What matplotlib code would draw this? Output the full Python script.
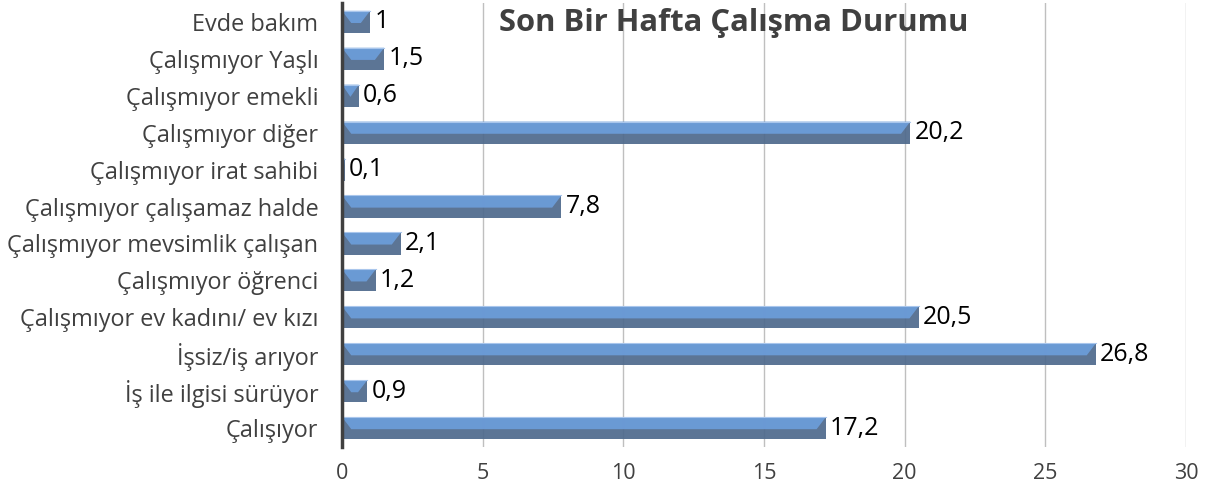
import matplotlib
matplotlib.use("Agg")
import matplotlib.pyplot as plt
from matplotlib.patches import Polygon, Rectangle

plt.rcParams['font.family'] = ['Open Sans', 'DejaVu Sans']

kategoriler = ['Çalışıyor', 'İş ile ilgisi sürüyor', 'İşsiz/iş arıyor',
               'Çalışmıyor ev kadını/ ev kızı', 'Çalışmıyor öğrenci',
               'Çalışmıyor mevsimlik çalışan', 'Çalışmıyor çalışamaz halde',
               'Çalışmıyor irat sahibi', 'Çalışmıyor diğer', 'Çalışmıyor emekli',
               'Çalışmıyor Yaşlı', 'Evde bakım']
degerler = [17.2, 0.9, 26.8, 20.5, 1.2, 2.1, 7.8, 0.1, 20.2, 0.6, 1.5, 1]
etiketler = ['17,2', '0,9', '26,8', '20,5', '1,2', '2,1', '7,8', '0,1', '20,2', '0,6', '1,5', '1']
baslik = 'Son Bir Hafta Çalışma Durumu'

ACIK = '#6C9DDA'
KOYU = '#4F6A8D'
h = 0.6

fig = plt.figure(figsize=(12.11, 4.88), dpi=100)
ax = fig.add_axes([0.2824, 0.085, 0.697, 0.908])

for i, v in enumerate(degerler):
    alt, ust = i - h / 2, i + h / 2
    d = min(0.33, v / 2)
    # koyu alt kisim (tum cubuk)
    ax.add_patch(Rectangle((0, alt), v, h, facecolor=KOYU, edgecolor='none', alpha=0.93, zorder=2))
    # acik ust yuz (egimli uclar)
    ax.add_patch(Polygon([(0, ust), (v, ust), (v - d, i - 0.03), (d, i - 0.03)], closed=True,
                         facecolor=ACIK, edgecolor='none', alpha=0.93, zorder=3))
    ax.plot([0, v], [ust, ust], color='#A9C6EC', lw=0.8, zorder=4)
    ax.annotate(etiketler[i], (v, i), xytext=(3, 0), textcoords='offset points',
                va='center', ha='left', fontsize=18, color='black')

ax.set_xlim(0, 30)
ax.set_ylim(-0.5, len(kategoriler) - 0.5)
ax.set_yticks(range(len(kategoriler)))
ax.set_yticklabels(kategoriler)
ax.set_xticks([0, 5, 10, 15, 20, 25, 30])
ax.tick_params(axis='y', length=0, pad=17, labelsize=16.9, labelcolor='#404040')
ax.tick_params(axis='x', length=0, pad=12, labelsize=15.5, labelcolor='#404040')
ax.grid(axis='x', color='#BFBFBF', lw=1, zorder=1)
ax.set_axisbelow(True)
for s in ['top', 'right', 'bottom']:
    ax.spines[s].set_visible(False)
ax.spines['left'].set_color('#404040')
ax.spines['left'].set_linewidth(2.5)
ax.spines['left'].set_zorder(5)

fig.text(0.606, 0.952, baslik, ha='center', va='center', fontsize=22.3,
         fontweight='bold', color='#404040')

fig.savefig('out.png', dpi=100)
